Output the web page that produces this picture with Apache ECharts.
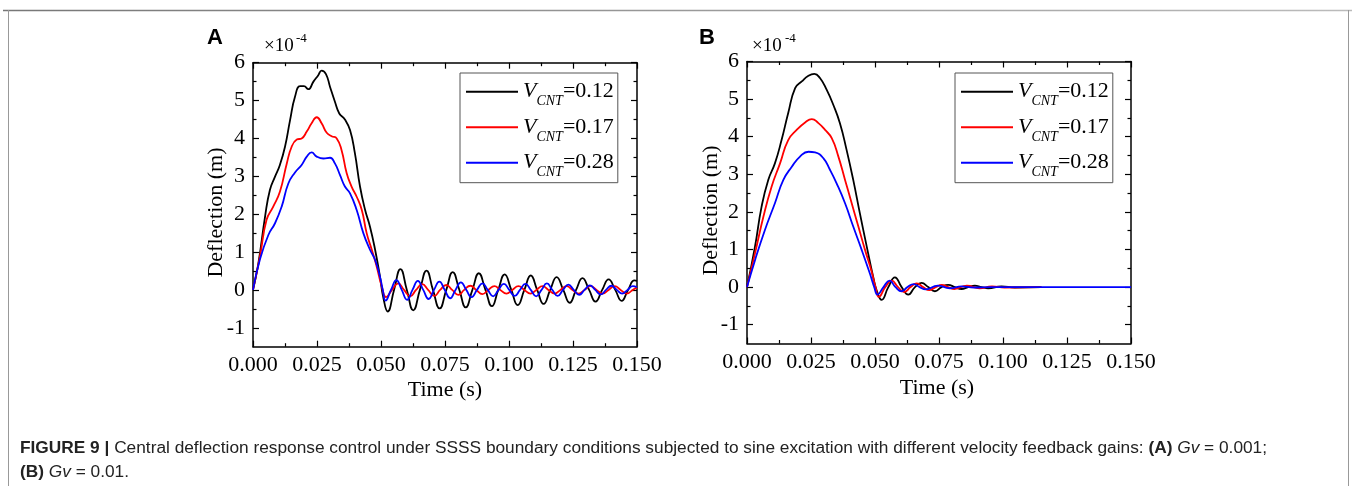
<!DOCTYPE html>
<html>
<head>
<meta charset="utf-8">
<script src="https://cdn.jsdelivr.net/npm/echarts@6/dist/echarts.min.js"></script>
<style>
  html, body { margin: 0; padding: 0; background: #fff; }
  #chart { width: 1356px; height: 486px; }
</style>
</head>
<body>
<div id="chart"></div>
<script>
// tick positions
const xMajorTicks = [0, 0.025, 0.05, 0.075, 0.1, 0.125, 0.15];
const xMinorTicks = [0.0125, 0.0375, 0.0625, 0.0875, 0.1125, 0.1375];
const yMajorTicks = [-1, 0, 1, 2, 3, 4, 5, 6];
const yMinorTicks = [-0.5, 0.5, 1.5, 2.5, 3.5, 4.5, 5.5];

const seriesNames = ['VCNT=0.12', 'VCNT=0.17', 'VCNT=0.28'];
const seriesColors = ['#000000', '#ff0000', '#0000ff'];

// panel A (Gv = 0.001), [time s, deflection x1e-4 m]
const aBlack = [
  [0, 0], [0.0021, 0.70], [0.0047, 1.93], [0.0066, 2.64], [0.0086, 2.99], [0.0105, 3.30],
  [0.0125, 3.78], [0.0145, 4.49], [0.0164, 5.10], [0.0184, 5.38], [0.0199, 5.38], [0.0216, 5.30],
  [0.0236, 5.50], [0.0255, 5.67], [0.0268, 5.79], [0.0285, 5.70], [0.0301, 5.36], [0.0320, 4.97],
  [0.0337, 4.66], [0.0359, 4.50], [0.0379, 4.22], [0.0398, 3.61], [0.0418, 2.73], [0.0438, 2.11],
  [0.0457, 1.67], [0.0477, 1.06], [0.0496, 0.35], [0.0509, -0.20],
  [0.0526, -0.57], [0.0551, 0], [0.0576, 0.55], [0.0601, 0], [0.0626, -0.54], [0.0652, 0],
  [0.0678, 0.51], [0.0703, 0], [0.0729, -0.49], [0.0755, 0], [0.0780, 0.47], [0.0806, 0],
  [0.0831, -0.46], [0.0857, 0], [0.0882, 0.44], [0.0908, 0], [0.0933, -0.43], [0.0958, 0],
  [0.0983, 0.41], [0.1009, 0], [0.1034, -0.40], [0.1060, 0], [0.1085, 0.38], [0.1110, 0],
  [0.1135, -0.37], [0.1161, 0], [0.1186, 0.34], [0.1212, 0], [0.1237, -0.34], [0.1262, 0],
  [0.1287, 0.31], [0.1313, 0], [0.1338, -0.31], [0.1364, 0], [0.1389, 0.28], [0.1415, 0],
  [0.1440, -0.29], [0.1465, 0], [0.1490, 0.25], [0.1500, 0.24]
];
const aRed = [
  [0, 0], [0.0027, 0.88], [0.0053, 1.85], [0.0079, 2.20], [0.0105, 2.59], [0.0132, 3.34],
  [0.0151, 3.78], [0.0171, 3.97], [0.0190, 4.00], [0.0210, 4.18], [0.0229, 4.40], [0.0249, 4.56],
  [0.0268, 4.40], [0.0288, 4.15], [0.0307, 4.06], [0.0327, 4.00], [0.0346, 3.69], [0.0366, 3.08],
  [0.0385, 2.73], [0.0405, 2.46], [0.0425, 2.11], [0.0444, 1.50], [0.0464, 1.06], [0.0483, 0.62],
  [0.0503, 0.09], [0.0520, -0.19], [0.0543, 0], [0.0567, 0.17], [0.0590, 0], [0.0614, -0.17],
  [0.0637, 0], [0.0661, 0.15], [0.0684, 0], [0.0708, -0.16], [0.0731, 0], [0.0755, 0.13],
  [0.0778, 0], [0.0802, -0.13], [0.0825, 0], [0.0849, 0.11], [0.0872, 0], [0.0896, -0.11],
  [0.0919, 0], [0.0943, 0.10], [0.0966, 0], [0.0990, -0.10], [0.1013, 0], [0.1037, 0.10],
  [0.1060, 0], [0.1084, -0.10], [0.1107, 0], [0.1131, 0.10], [0.1154, 0], [0.1178, -0.10],
  [0.1201, 0], [0.1225, 0.10], [0.1248, 0], [0.1272, -0.10], [0.1295, 0], [0.1319, 0.10],
  [0.1342, 0], [0.1366, -0.10], [0.1389, 0], [0.1413, 0.10], [0.1436, 0], [0.1460, -0.10],
  [0.1483, 0], [0.1500, 0.06]
];
const aBlue = [
  [0, 0], [0.0027, 0.80], [0.0060, 1.45], [0.0086, 1.76], [0.0112, 2.20], [0.0138, 2.81],
  [0.0164, 3.10], [0.0190, 3.30], [0.0210, 3.52], [0.0229, 3.63], [0.0249, 3.52], [0.0275, 3.47],
  [0.0301, 3.49], [0.0320, 3.34], [0.0340, 3.03], [0.0359, 2.73], [0.0379, 2.55], [0.0405, 2.11],
  [0.0431, 1.50], [0.0457, 1.06], [0.0477, 0.79], [0.0496, 0.35], [0.0507, 0],
  [0.0518, -0.28], [0.0539, 0], [0.0560, 0.26], [0.0581, 0], [0.0602, -0.26], [0.0623, 0],
  [0.0644, 0.24], [0.0665, 0], [0.0686, -0.24], [0.0707, 0], [0.0728, 0.22], [0.0749, 0],
  [0.0770, -0.22], [0.0791, 0], [0.0812, 0.20], [0.0833, 0], [0.0854, -0.19], [0.0875, 0],
  [0.0896, 0.17], [0.0917, 0], [0.0938, -0.17], [0.0959, 0], [0.0980, 0.16], [0.1001, 0],
  [0.1022, -0.16], [0.1043, 0], [0.1064, 0.16], [0.1085, 0], [0.1106, -0.17], [0.1127, 0],
  [0.1148, 0.17], [0.1169, 0], [0.1190, -0.16], [0.1211, 0], [0.1232, 0.14], [0.1253, 0],
  [0.1274, -0.13], [0.1295, 0], [0.1316, 0.12], [0.1337, 0], [0.1358, -0.12], [0.1379, 0],
  [0.1400, 0.11], [0.1421, 0], [0.1442, -0.10], [0.1463, 0], [0.1484, 0.10], [0.1500, 0.07]
];

// panel B (Gv = 0.01)
const bBlack = [
  [0, 0], [0.0031, 1.07], [0.0057, 2.14], [0.0083, 2.85], [0.0109, 3.29], [0.0135, 3.91],
  [0.0161, 4.63], [0.0188, 5.29], [0.0214, 5.47], [0.0240, 5.62], [0.0263, 5.67], [0.0285, 5.56],
  [0.0311, 5.25], [0.0337, 4.85], [0.0363, 4.36], [0.0389, 3.65], [0.0415, 2.85], [0.0441, 1.96],
  [0.0468, 1.07], [0.0493, 0.27], [0.0508, -0.12], [0.0526, -0.34], [0.0552, 0], [0.0578, 0.26],
  [0.0604, 0], [0.0630, -0.20], [0.0656, 0], [0.0682, 0.11], [0.0708, 0], [0.0734, -0.11],
  [0.0760, 0], [0.0786, 0.06], [0.0812, 0], [0.0838, -0.05], [0.0864, 0], [0.0890, 0.04],
  [0.0916, 0], [0.0942, -0.03], [0.0994, 0.02], [0.1046, -0.01], [0.1150, 0]
];
const bRed = [
  [0, 0], [0.0031, 0.89], [0.0064, 1.87], [0.0096, 2.67], [0.0129, 3.29], [0.0161, 3.91],
  [0.0194, 4.18], [0.0227, 4.38], [0.0253, 4.47], [0.0279, 4.36], [0.0305, 4.18], [0.0331, 3.96],
  [0.0357, 3.47], [0.0383, 2.85], [0.0409, 2.23], [0.0435, 1.61], [0.0461, 0.99], [0.0487, 0.41],
  [0.0502, 0], [0.0515, -0.26], [0.0540, 0], [0.0565, 0.17], [0.0590, 0], [0.0614, -0.13],
  [0.0639, 0], [0.0663, 0.10], [0.0688, 0], [0.0712, -0.08], [0.0737, 0], [0.0761, 0.06],
  [0.0786, 0], [0.0810, -0.05], [0.0859, 0.04], [0.0908, -0.03], [0.0957, 0.02], [0.1006, -0.01],
  [0.1150, 0]
];
const bBlue = [
  [0, 0], [0.0031, 0.71], [0.0070, 1.52], [0.0109, 2.23], [0.0142, 2.85], [0.0175, 3.20],
  [0.0207, 3.47], [0.0240, 3.60], [0.0266, 3.58], [0.0298, 3.43], [0.0324, 3.12], [0.0350, 2.76],
  [0.0383, 2.23], [0.0415, 1.61], [0.0448, 0.99], [0.0480, 0.36], [0.0497, 0], [0.0510, -0.20],
  [0.0533, 0], [0.0557, 0.17], [0.0580, 0], [0.0604, -0.11], [0.0627, 0], [0.0651, 0.08],
  [0.0674, 0], [0.0698, -0.06], [0.0745, 0.04], [0.0792, -0.03], [0.0839, 0.02], [0.0886, -0.01],
  [0.0950, 0], [0.1500, 0]
];

const serif = 'Liberation Serif';
const sans = 'Liberation Sans';
const capFont = 'Liberation Sans';
const capSize = 17.3;

const grids = [
  { left: 253, top: 62.7, width: 384, height: 284 },
  { left: 747, top: 61.5, width: 384, height: 282 }
];

function tickStyle(len, values) {
  return { show: true, inside: true, length: len, customValues: values, lineStyle: { color: '#000', width: 1.2 } };
}

// 4 x axes and 4 y axes per grid: main + minor ticks, bottom/top and left/right
function buildAxes(gi) {
  const xs = [], ys = [];
  const lineOn = { show: true, onZero: false, lineStyle: { color: '#000', width: 1.5 } };
  const lineOff = { show: false, onZero: false };
  const noLabel = { show: false };
  const xBase = { type: 'value', gridIndex: gi, min: 0, max: 0.15, interval: 0.025, splitLine: { show: false } };
  const yBase = { type: 'value', gridIndex: gi, min: -1.5, max: 6, interval: 0.5, splitLine: { show: false } };

  xs.push(Object.assign({}, xBase, {
    position: 'bottom', axisLine: lineOn, axisTick: tickStyle(6, xMajorTicks),
    axisLabel: {
      show: true, margin: 8, fontFamily: serif, fontSize: 22, color: '#000',
      showMinLabel: true, showMaxLabel: true, hideOverlap: false,
      formatter: v => v.toFixed(3)
    }
  }));
  xs.push(Object.assign({}, xBase, { position: 'bottom', axisLine: lineOff, axisTick: tickStyle(3.5, xMinorTicks), axisLabel: noLabel }));
  xs.push(Object.assign({}, xBase, { position: 'top', axisLine: lineOn, axisTick: tickStyle(6, xMajorTicks), axisLabel: noLabel }));
  xs.push(Object.assign({}, xBase, { position: 'top', axisLine: lineOff, axisTick: tickStyle(3.5, xMinorTicks), axisLabel: noLabel }));

  ys.push(Object.assign({}, yBase, {
    position: 'left', axisLine: lineOn, axisTick: tickStyle(6, yMajorTicks),
    axisLabel: {
      show: true, margin: 8, fontFamily: serif, fontSize: 22, color: '#000',
      customValues: yMajorTicks, formatter: v => String(v)
    }
  }));
  ys.push(Object.assign({}, yBase, { position: 'left', axisLine: lineOff, axisTick: tickStyle(3.5, yMinorTicks), axisLabel: noLabel }));
  ys.push(Object.assign({}, yBase, { position: 'right', axisLine: lineOn, axisTick: tickStyle(6, yMajorTicks), axisLabel: noLabel }));
  ys.push(Object.assign({}, yBase, { position: 'right', axisLine: lineOff, axisTick: tickStyle(3.5, yMinorTicks), axisLabel: noLabel }));
  return { xs, ys };
}

const axA = buildAxes(0);
const axB = buildAxes(1);

function lineSeries(name, color, data, axisIndex) {
  return {
    type: 'line', name, data, xAxisIndex: axisIndex, yAxisIndex: axisIndex,
    symbol: 'none', smooth: 0.5, color,
    lineStyle: { color, width: 1.8 }, emphasis: { disabled: true }
  };
}

const panelA = [aBlack, aRed, aBlue];
const panelB = [bBlack, bRed, bBlue];
const series = [];
panelA.forEach((d, i) => series.push(lineSeries(seriesNames[i], seriesColors[i], d, 0)));
panelB.forEach((d, i) => series.push(lineSeries(seriesNames[i], seriesColors[i], d, 4)));

function legendAt(left, top) {
  return {
    data: seriesNames, left, top, orient: 'vertical',
    icon: 'rect', itemWidth: 52, itemHeight: 2, itemGap: 7.5, itemTextGap: 3,
    padding: [7.7, 4, 3, 6], borderColor: '#555', borderWidth: 1, backgroundColor: '#fff',
    selectedMode: false,
    formatter: name => '{v|V}{s|CNT}{n|' + name.slice(name.indexOf('=')) + '}',
    textStyle: {
      color: '#000',
      rich: {
        v: { fontFamily: serif, fontStyle: 'italic', fontSize: 22, color: '#000' },
        s: { fontFamily: serif, fontStyle: 'italic', fontSize: 14, color: '#000', padding: [20, 0, 0, 0] },
        n: { fontFamily: serif, fontSize: 22, color: '#000' }
      }
    }
  };
}

const captionRich = {
  b: { fontFamily: capFont, fontWeight: 'bold', fontSize: capSize, color: '#222' },
  r: { fontFamily: capFont, fontSize: capSize, color: '#222' },
  i: { fontFamily: capFont, fontStyle: 'italic', fontSize: capSize, color: '#222' }
};

const graphic = [
  {
    type: 'line', shape: { x1: 3, y1: 10.5, x2: 1352, y2: 10.5 },
    style: {
      lineWidth: 1.5,
      stroke: new echarts.graphic.LinearGradient(0, 0, 1, 0, [
        { offset: 0, color: '#777' }, { offset: 1, color: '#bbb' }
      ])
    }
  },
  { type: 'line', shape: { x1: 8.5, y1: 10, x2: 8.5, y2: 486 }, style: { stroke: '#999', lineWidth: 1 } },
  { type: 'line', shape: { x1: 1348.5, y1: 10, x2: 1348.5, y2: 486 }, style: { stroke: '#999', lineWidth: 1 } },
  { type: 'text', x: 207, y: 37.5, style: { text: 'A', fontFamily: sans, fontWeight: 'bold', fontSize: 22, fill: '#000', verticalAlign: 'middle' } },
  { type: 'text', x: 699, y: 37.5, style: { text: 'B', fontFamily: sans, fontWeight: 'bold', fontSize: 22, fill: '#000', verticalAlign: 'middle' } },
  { type: 'text', x: 264, y: 46, style: { text: '×10', fontFamily: serif, fontSize: 19, fill: '#000', verticalAlign: 'middle' } },
  { type: 'text', x: 296, y: 39, style: { text: '-4', fontFamily: serif, fontSize: 13, fill: '#000', verticalAlign: 'middle' } },
  { type: 'text', x: 752, y: 46, style: { text: '×10', fontFamily: serif, fontSize: 19, fill: '#000', verticalAlign: 'middle' } },
  { type: 'text', x: 785, y: 39, style: { text: '-4', fontFamily: serif, fontSize: 13, fill: '#000', verticalAlign: 'middle' } },
  { type: 'text', x: 216, y: 212.5, rotation: Math.PI / 2, style: { text: 'Deflection (m)', fontFamily: serif, fontSize: 22, fill: '#000', align: 'center', verticalAlign: 'middle' } },
  { type: 'text', x: 711, y: 210.5, rotation: Math.PI / 2, style: { text: 'Deflection (m)', fontFamily: serif, fontSize: 22, fill: '#000', align: 'center', verticalAlign: 'middle' } },
  { type: 'text', x: 445, y: 390, style: { text: 'Time (s)', fontFamily: serif, fontSize: 22, fill: '#000', align: 'center', verticalAlign: 'middle' } },
  { type: 'text', x: 937, y: 388, style: { text: 'Time (s)', fontFamily: serif, fontSize: 22, fill: '#000', align: 'center', verticalAlign: 'middle' } },
  {
    type: 'text', x: 20, y: 448,
    style: {
      text: '{b|FIGURE 9 |} {r|Central deflection response control under SSSS boundary conditions subjected to sine excitation with different velocity feedback gains: }{b|(A)} {i|Gv} {r|= 0.001;}',
      rich: captionRich, fontFamily: capFont, fontSize: capSize, fill: '#222', verticalAlign: 'middle'
    }
  },
  {
    type: 'text', x: 20, y: 472,
    style: { text: '{b|(B)} {i|Gv} {r|= 0.01.}', rich: captionRich, fontFamily: capFont, fontSize: capSize, fill: '#222', verticalAlign: 'middle' }
  }
];

const chart = echarts.init(document.getElementById('chart'), null, { renderer: 'canvas' });
chart.setOption({
  animation: false,
  backgroundColor: '#fff',
  grid: grids,
  xAxis: axA.xs.concat(axB.xs),
  yAxis: axA.ys.concat(axB.ys),
  legend: [legendAt(460, 73), legendAt(955, 73)],
  series,
  graphic
});
</script>
</body>
</html>
